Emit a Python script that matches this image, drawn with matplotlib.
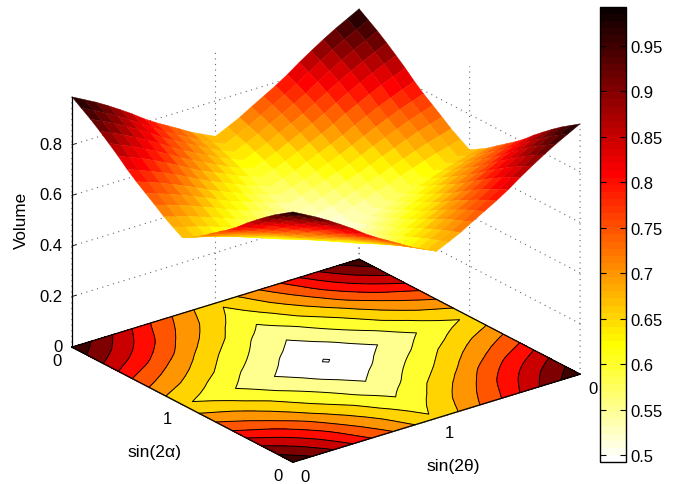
import numpy as np
import matplotlib
matplotlib.use("Agg")
import matplotlib.pyplot as plt
from matplotlib.colors import ListedColormap, Normalize
from matplotlib.cm import ScalarMappable

plt.rcParams['font.family'] = ['Liberation Sans', 'DejaVu Sans']

# One quadrant of the Volume surface (corner -> centre)
volume_quadrant = [
    [.990, .965, .940, .912, .882, .851, .817, .787, .760, .733, .705, .682, .660],
    [.965, .941, .917, .890, .861, .831, .799, .770, .744, .718, .691, .669, .648],
    [.940, .917, .894, .868, .840, .812, .780, .753, .728, .703, .677, .656, .635],
    [.912, .890, .868, .843, .817, .790, .760, .733, .709, .686, .661, .641, .621],
    [.882, .861, .840, .817, .792, .766, .738, .713, .690, .667, .644, .625, .607],
    [.851, .831, .812, .790, .766, .742, .715, .691, .670, .649, .627, .609, .591],
    [.817, .799, .780, .760, .738, .715, .690, .668, .648, .628, .607, .591, .574],
    [.787, .770, .753, .733, .713, .691, .668, .647, .628, .610, .591, .575, .559],
    [.760, .744, .728, .709, .690, .670, .648, .628, .611, .593, .575, .560, .546],
    [.733, .718, .703, .686, .667, .649, .628, .610, .593, .577, .560, .546, .533],
    [.705, .691, .677, .661, .644, .627, .607, .591, .575, .560, .544, .531, .519],
    [.682, .669, .656, .641, .625, .608, .591, .575, .560, .546, .531, .519, .507],
    [.660, .648, .635, .621, .607, .591, .574, .559, .546, .533, .519, .507, .497],
]
contour_levels = [.5, .55, .6, .65, .7, .75, .8, .85, .9, .95]
cbar_ticks = [.5, .55, .6, .65, .7, .75, .8, .85, .9, .95]
cbar_labels = ['0.5', '0.55', '0.6', '0.65', '0.7', '0.75', '0.8', '0.85', '0.9', '0.95']
z_ticks = [0, .2, .4, .6, .8]
z_labels = ['0', '0.2', '0.4', '0.6', '0.8']
xy_labels = ['0', '1', '0']
v_min, v_max = .4925, .9926

q = np.array(volume_quadrant)
top = np.hstack([q, q[:, -2::-1]])
Z = np.vstack([top, top[-2::-1, :]])
n = Z.shape[0]
axis_vals = np.linspace(0, np.pi / 2, n)
Y, X = np.meshgrid(axis_vals, axis_vals)

cmap = ListedColormap(plt.get_cmap('hot_r', 64)(np.arange(64)))
norm = Normalize(v_min, v_max)

W, H = 697, 485
fig = plt.figure(figsize=(W / 100, H / 100), dpi=100)
side = 600
ax = fig.add_axes([17.9 / W, -59.6 / H, side / W, side / H],
                  projection='3d', proj_type='ortho', computed_zorder=False)
ax.patch.set_alpha(0)
ax.view_init(elev=23.54, azim=-37.5)
ax.set_xlim(0, np.pi / 2, view_margin=0)
ax.set_ylim(0, np.pi / 2, view_margin=0)
ax.set_zlim(0, .99, view_margin=0)
ax.set_box_aspect((363, 362, 273), zoom=.9398)

bounds = [.40] + contour_levels + [1.0]
fills = [cmap(norm(v)) for v in [.5] + contour_levels]
ax.contourf(X, Y, Z, levels=bounds, colors=fills, zdir='z', offset=0, zorder=1)
ax.contour(X, Y, Z, levels=contour_levels, colors='k', linewidths=.7,
           zdir='z', offset=0, zorder=2)
cell_z = (Z[:-1, :-1] + Z[1:, :-1] + Z[:-1, 1:] + Z[1:, 1:]) / 4
ax.plot_surface(X, Y, Z, rstride=1, cstride=1, facecolors=cmap(norm(cell_z)),
                linewidth=.3, antialiased=True, shade=False, zorder=3)

lo, hi = 0, np.pi / 2
ax.plot([lo, hi, hi, lo, lo], [lo, lo, hi, hi, lo], [0] * 5, color='k', lw=.9, zorder=2.5)

ticks_xy = [0, np.pi / 4, np.pi / 2]
ax.set_xticks(ticks_xy, xy_labels)
ax.set_yticks(ticks_xy, xy_labels)
ax.set_zticks(z_ticks, z_labels)
ax.zaxis.set_ticks_position('lower')
ax.zaxis.set_label_position('lower')
ax.tick_params(labelsize=12, pad=0, colors='k')
ax.zaxis.set_tick_params(pad=-4)

for a in (ax.xaxis, ax.yaxis, ax.zaxis):
    a.set_pane_color((1, 1, 1, 0))
    a.pane.set_edgecolor((1, 1, 1, 0))
    a.line.set_color('k')
    a.line.set_linewidth(.9)
    a._axinfo['tick'].update(inward_factor=0, outward_factor=.18,
                             linewidth={True: .6, False: .6}, color='#444444')
    a._axinfo['grid'].update(color='#666666', linewidth=.8, linestyle=(0, (1, 4)))
    a.set_rotate_label(False)
for a in (ax.xaxis, ax.yaxis):
    for t in a.get_major_ticks():
        t.label1.set_va('center_baseline')
for t in ax.zaxis.get_major_ticks():
    t.label1.set_va('center')
for t in ax.xaxis.get_major_ticks():
    t.label1.set_ha('right')
for t in ax.yaxis.get_major_ticks():
    t.label1.set_ha('left')
for t in ax.zaxis.get_major_ticks():
    t.label1.set_ha('right')

ax.set_zlabel('Volume', fontsize=12.3, rotation=90, labelpad=1.5)
fig.text(155 / W, 1 - 453 / H, 'sin(2α)', fontsize=12.6, ha='center', va='center')
fig.text(453 / W, 1 - 467 / H, 'sin(2θ)', fontsize=12.6, ha='center', va='center')

cax = fig.add_axes([600 / W, 1 - 463 / H, 26 / W, 455 / H])
cb = fig.colorbar(ScalarMappable(norm=norm, cmap=cmap), cax=cax)
cb.set_ticks(cbar_ticks, labels=cbar_labels)
cb.ax.tick_params(direction='in', left=True, right=True, length=4, width=.8,
                  labelsize=12, pad=3)
cb.outline.set_linewidth(1)
cb.outline.set_edgecolor('k')

fig.savefig('out.png', dpi=100)
